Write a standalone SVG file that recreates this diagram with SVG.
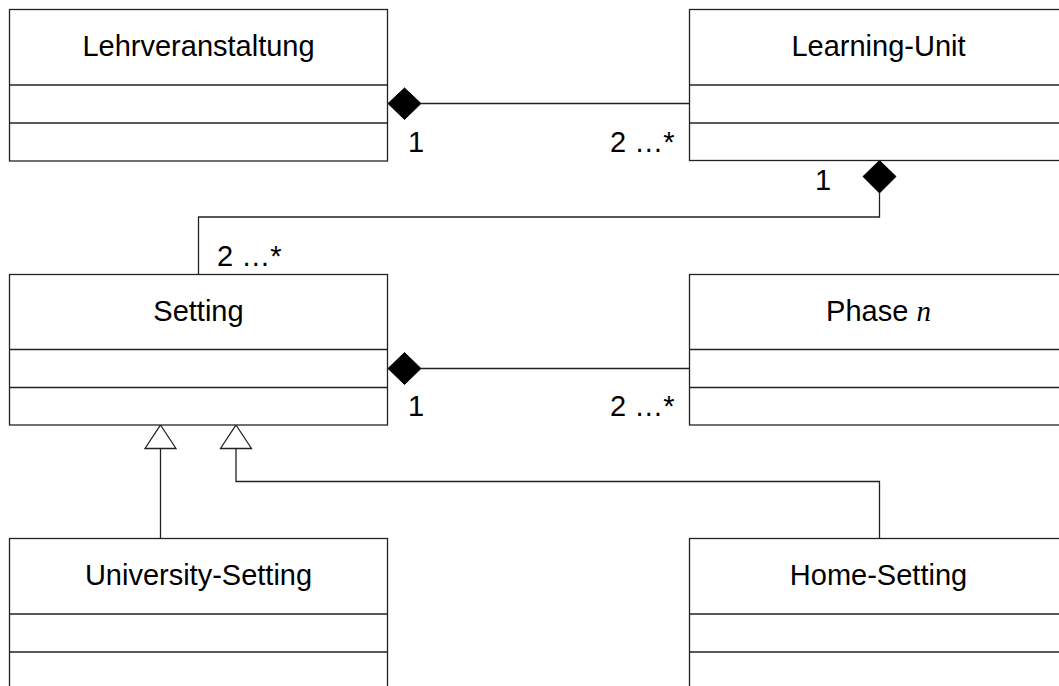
<svg xmlns="http://www.w3.org/2000/svg" width="1059" height="686" viewBox="0 0 1059 686">
  <style>
    .box { fill: #fff; stroke: #222; stroke-width: 1.3; }
    .div { stroke: #222; stroke-width: 1.3; fill: none; }
    .edge { stroke: #222; stroke-width: 1.3; fill: none; }
    .title { font-family: "Liberation Sans", Arial, sans-serif; font-size: 29px; fill: #000; text-anchor: middle; }
    .mult { font-family: "Liberation Sans", Arial, sans-serif; font-size: 29px; fill: #000; }
    .math { font-family: "Liberation Serif", "Times New Roman", serif; font-style: italic; }
    .comp { fill: #000; stroke: #000; stroke-width: 1; }
    .gen { fill: #fff; stroke: #222; stroke-width: 1.3; }
  </style>

  <!-- connectors -->
  <g id="connectors">
    <!-- Lehrveranstaltung <>- Learning-Unit -->
    <line class="edge" x1="421" y1="103.5" x2="689.5" y2="103.5"/>
    <polygon class="comp" points="388,103.5 404.5,88 421,103.5 404.5,119.5"/>
    <text class="mult" x="408" y="152">1</text>
    <text class="mult" x="610" y="152">2 …*</text>

    <!-- Learning-Unit <>- Setting -->
    <polyline class="edge" points="879.5,193 879.5,217 198.5,217 198.5,274.5"/>
    <polygon class="comp" points="879.5,160.5 896,176.5 879.5,193 863,176.5"/>
    <text class="mult" x="815" y="190">1</text>
    <text class="mult" x="217" y="266">2 …*</text>

    <!-- Setting <>- Phase n -->
    <line class="edge" x1="421" y1="368.5" x2="689.5" y2="368.5"/>
    <polygon class="comp" points="388,368.5 404.5,352.5 421,368.5 404.5,384.5"/>
    <text class="mult" x="408" y="416">1</text>
    <text class="mult" x="610" y="416">2 …*</text>

    <!-- University-Setting -|> Setting -->
    <line class="edge" x1="160.5" y1="448.5" x2="160.5" y2="538.5"/>
    <polygon class="gen" points="160.5,425 176,448.5 145,448.5"/>

    <!-- Home-Setting -|> Setting -->
    <polyline class="edge" points="879.5,538.5 879.5,481.5 236,481.5 236,448.5"/>
    <polygon class="gen" points="236,425 251.5,448.5 220.5,448.5"/>
  </g>

  <!-- class nodes -->
  <g id="lehrveranstaltung">
    <rect class="box" x="9.5" y="9.5" width="378" height="151.5"/>
    <line class="div" x1="9.5" y1="85" x2="387.5" y2="85"/>
    <line class="div" x1="9.5" y1="123" x2="387.5" y2="123"/>
    <text class="title" x="198.5" y="56">Lehrveranstaltung</text>
  </g>

  <g id="learning-unit">
    <rect class="box" x="689.5" y="9.5" width="378" height="151"/>
    <line class="div" x1="689.5" y1="85" x2="1067.5" y2="85"/>
    <line class="div" x1="689.5" y1="123" x2="1067.5" y2="123"/>
    <text class="title" x="878.5" y="56">Learning-Unit</text>
  </g>

  <g id="setting">
    <rect class="box" x="9.5" y="274.5" width="378" height="150.5"/>
    <line class="div" x1="9.5" y1="349.5" x2="387.5" y2="349.5"/>
    <line class="div" x1="9.5" y1="387.5" x2="387.5" y2="387.5"/>
    <text class="title" x="198.5" y="320.5">Setting</text>
  </g>

  <g id="phase-n">
    <rect class="box" x="689.5" y="274.5" width="378" height="150.5"/>
    <line class="div" x1="689.5" y1="349.5" x2="1067.5" y2="349.5"/>
    <line class="div" x1="689.5" y1="387.5" x2="1067.5" y2="387.5"/>
    <text class="title" x="878.5" y="320.5">Phase <tspan class="math">n</tspan></text>
  </g>

  <g id="university-setting">
    <rect class="box" x="9.5" y="538.5" width="378" height="160"/>
    <line class="div" x1="9.5" y1="614" x2="387.5" y2="614"/>
    <line class="div" x1="9.5" y1="652" x2="387.5" y2="652"/>
    <text class="title" x="198.5" y="585">University-Setting</text>
  </g>

  <g id="home-setting">
    <rect class="box" x="689.5" y="538.5" width="378" height="160"/>
    <line class="div" x1="689.5" y1="614" x2="1067.5" y2="614"/>
    <line class="div" x1="689.5" y1="652" x2="1067.5" y2="652"/>
    <text class="title" x="878.5" y="585">Home-Setting</text>
  </g>
</svg>
